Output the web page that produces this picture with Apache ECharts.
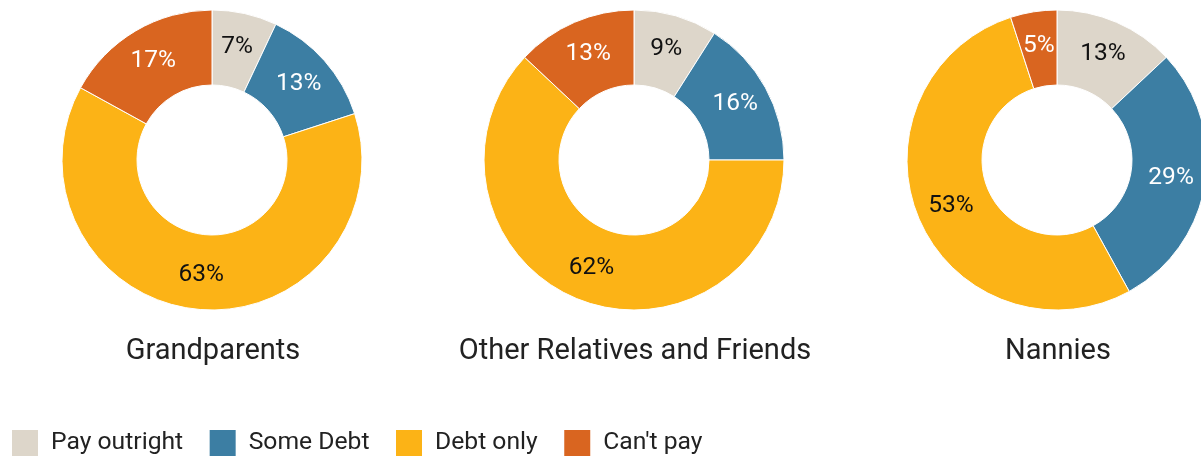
<!DOCTYPE html>
<html>
<head>
<meta charset="utf-8">
<script src="https://cdn.jsdelivr.net/npm/echarts@6/dist/echarts.min.js"></script>
<style>
  html, body { margin: 0; padding: 0; background: #fff; }
  #chart { width: 1201px; height: 459px; }
</style>
</head>
<body>
<div id="chart"></div>
<script>
// Payment outcome shares by type of childcare provider
const categories = ['Pay outright', 'Some Debt', 'Debt only', "Can't pay"];
const groups = ['Grandparents', 'Other Relatives and Friends', 'Nannies'];
const grandparents = [7, 13, 63, 17];
const otherRelatives = [9, 16, 62, 13];
const nannies = [13, 29, 53, 5];

const colors = ['#ddd6ca', '#3c7ea3', '#fcb316', '#d96520'];
const labelColors = ['#111111', '#ffffff', '#111111', '#ffffff'];
const centersX = [212, 634, 1057];
const FONT = 'Roboto, sans-serif';

const groupValues = [grandparents, otherRelatives, nannies];

const series = groupValues.map((vals, gi) => ({
  name: groups[gi],
  type: 'pie',
  center: [centersX[gi], 160],
  radius: [75, 150],
  startAngle: 90,
  clockwise: true,
  avoidLabelOverlap: false,
  silent: true,
  itemStyle: { borderColor: '#ffffff', borderWidth: 1 },
  label: {
    show: true,
    position: 'inside',
    formatter: '{c}%',
    fontFamily: FONT,
    fontSize: 24.5
  },
  labelLine: { show: false },
  data: vals.map((v, i) => ({
    name: categories[i],
    value: v,
    itemStyle: { color: colors[i] },
    label: { color: labelColors[i] }
  }))
}));

const titles = groups.map((g, gi) => ({
  text: g,
  left: centersX[gi] - 4,
  top: 332,
  textAlign: 'center',
  textStyle: { fontFamily: FONT, fontSize: 29, fontWeight: 'normal', color: '#222222' }
}));

const chart = echarts.init(document.getElementById('chart'), null, { renderer: 'canvas' });
chart.setOption({
  animation: false,
  backgroundColor: '#ffffff',
  title: titles,
  legend: {
    left: 5,
    top: 423,
    itemWidth: 28,
    itemHeight: 28,
    itemGap: 24.5,
    icon: 'rect',
    selectedMode: false,
    data: categories,
    textStyle: { fontFamily: FONT, fontSize: 24.7, lineHeight: 28, color: '#222222', padding: [0, 0, 0, 7] }
  },
  series: series
});
</script>
</body>
</html>
